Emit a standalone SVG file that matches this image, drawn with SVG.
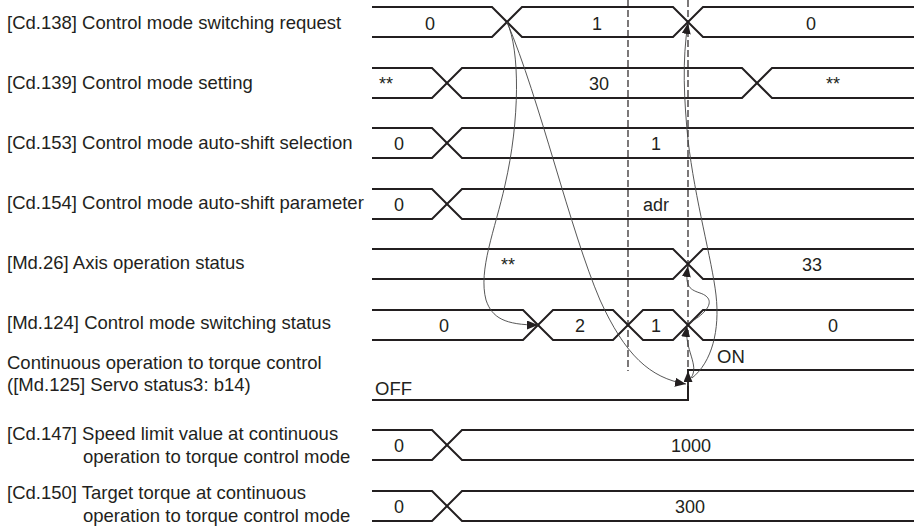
<svg xmlns="http://www.w3.org/2000/svg" width="914" height="529" viewBox="0 0 914 529">
<style>
.lbl{font-family:"Liberation Sans",Arial,sans-serif;font-size:18.5px;fill:#231f20}
.val{font-family:"Liberation Sans",Arial,sans-serif;font-size:18px;fill:#231f20;text-anchor:middle}
.wave{fill:none;stroke:#231f20;stroke-width:2}
.dash{fill:none;stroke:#231f20;stroke-width:1.2;stroke-dasharray:7 3}
.conn{fill:none;stroke:#444;stroke-width:0.9}
</style>
<defs>
<marker id="ah" viewBox="0 0 11 9" refX="11" refY="4.5" markerWidth="11" markerHeight="9" markerUnits="userSpaceOnUse" orient="auto">
<path d="M0,0 L11,4.5 L0,9 z" fill="#231f20"/>
</marker>
</defs>
<rect width="914" height="529" fill="#fff"/>

<g id="cd138">
<text class="lbl" x="7" y="29">[Cd.138] Control mode switching request</text>
<path class="wave" d="M372,7 H492 L522,37 H673 L703,7 H914"/>
<path class="wave" d="M372,37 H492 L522,7 H673 L703,37 H914"/>
<text class="val" x="430" y="29.5">0</text>
<text class="val" x="597" y="29.5">1</text>
<text class="val" x="811" y="29.5">0</text>
</g>

<g id="cd139">
<text class="lbl" x="7" y="89">[Cd.139] Control mode setting</text>
<path class="wave" d="M372,68 H432 L462,98 H742 L772,68 H914"/>
<path class="wave" d="M372,98 H432 L462,68 H742 L772,98 H914"/>
<text class="val" x="386" y="90">**</text>
<text class="val" x="599" y="90">30</text>
<text class="val" x="833" y="90">**</text>
</g>

<g id="cd153">
<text class="lbl" x="7" y="149">[Cd.153] Control mode auto-shift selection</text>
<path class="wave" d="M372,128 H432 L462,158 H914"/>
<path class="wave" d="M372,158 H432 L462,128 H914"/>
<text class="val" x="399" y="150">0</text>
<text class="val" x="656" y="150">1</text>
</g>

<g id="cd154">
<text class="lbl" x="7" y="209">[Cd.154] Control mode auto-shift parameter</text>
<path class="wave" d="M372,189 H432 L462,219 H914"/>
<path class="wave" d="M372,219 H432 L462,189 H914"/>
<text class="val" x="399" y="211">0</text>
<text class="val" x="656" y="211">adr</text>
</g>

<g id="md26">
<text class="lbl" x="7" y="269">[Md.26] Axis operation status</text>
<path class="wave" d="M372,249 H673 L703,279 H914"/>
<path class="wave" d="M372,279 H673 L703,249 H914"/>
<text class="val" x="508" y="271">**</text>
<text class="val" x="812" y="271">33</text>
</g>

<g id="md124">
<text class="lbl" x="7" y="329">[Md.124] Control mode switching status</text>
<path class="wave" d="M372,310 H523 L553,340 H613 L643,310 H673 L703,340 H914"/>
<path class="wave" d="M372,340 H523 L553,310 H613 L643,340 H673 L703,310 H914"/>
<text class="val" x="444" y="332">0</text>
<text class="val" x="580" y="332">2</text>
<text class="val" x="656" y="332">1</text>
<text class="val" x="833" y="332">0</text>
</g>

<g id="md125">
<text class="lbl" x="7" y="369">Continuous operation to torque control</text>
<text class="lbl" x="7" y="391">([Md.125] Servo status3: b14)</text>
<path class="wave" d="M372,400 H688 V370 H914"/>
<text class="lbl" x="375" y="395">OFF</text>
<text class="lbl" x="717" y="363">ON</text>
</g>

<g id="cd147">
<text class="lbl" x="7" y="440">[Cd.147] Speed limit value at continuous</text>
<text class="lbl" x="83" y="463">operation to torque control mode</text>
<path class="wave" d="M372,430 H432 L462,460 H914"/>
<path class="wave" d="M372,460 H432 L462,430 H914"/>
<text class="val" x="399" y="452">0</text>
<text class="val" x="691" y="452">1000</text>
</g>

<g id="cd150">
<text class="lbl" x="7" y="499">[Cd.150] Target torque at continuous</text>
<text class="lbl" x="83" y="522">operation to torque control mode</text>
<path class="wave" d="M372,491 H432 L462,521 H914"/>
<path class="wave" d="M372,521 H432 L462,491 H914"/>
<text class="val" x="399" y="513">0</text>
<text class="val" x="690" y="513">300</text>
</g>

<g id="timing-marks">
<line class="dash" x1="628" y1="0" x2="628" y2="371"/>
<line class="dash" x1="688" y1="0" x2="688" y2="370"/>
</g>

<g id="connectors">
<path class="conn" marker-end="url(#ah)" d="M507,22 C520,50 520,120 505,185 C495,230 478,270 486,300 C492,318 505,325 538,325"/>
<path class="conn" marker-end="url(#ah)" d="M507,22 C540,100 570,230 600,300 C625,355 650,378 686,384"/>
<path class="conn" marker-end="url(#ah)" d="M692,378 C712,362 720,330 716,295 C712,260 695,200 688,140 C684,100 682,60 688,23"/>
<path class="conn" marker-end="url(#ah)" d="M691,378 C700,365 684,350 687,326"/>
<path class="conn" marker-end="url(#ah)" d="M689,323 C712,310 715,298 700,293 C688,289 685,285 688,266"/>
<path class="conn" marker-end="url(#ah)" d="M688,386 L688,371"/>
</g>
</svg>
